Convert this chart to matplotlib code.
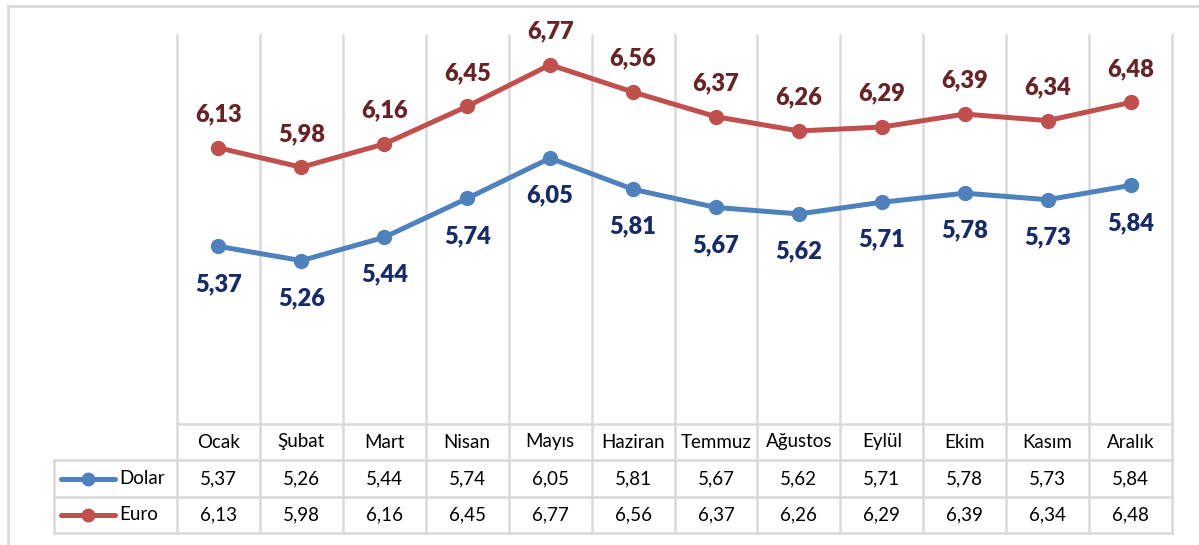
import matplotlib
matplotlib.use("Agg")
import matplotlib.pyplot as plt
import matplotlib.transforms as mtransforms
from matplotlib.lines import Line2D

plt.rcParams["font.family"] = ["Lato", "DejaVu Sans"]

months = ["Ocak", "Şubat", "Mart", "Nisan", "Mayıs", "Haziran",
          "Temmuz", "Ağustos", "Eylül", "Ekim", "Kasım", "Aralık"]
dolar = [5.37, 5.26, 5.44, 5.74, 6.05, 5.81, 5.67, 5.62, 5.71, 5.78, 5.73, 5.84]
euro = [6.13, 5.98, 6.16, 6.45, 6.77, 6.56, 6.37, 6.26, 6.29, 6.39, 6.34, 6.48]
series_names = ["Dolar", "Euro"]

W, H = 1199, 545
GRID = "#d9d9d9"
BLUE, RED = "#4f81bd", "#c0504d"
BLUE_TXT, RED_TXT = "#172c66", "#662426"


def fmt(v):
    return f"{v:.2f}".replace(".", ",")


fig = plt.figure(figsize=(W / 100, H / 100), dpi=100)

# outer chart border (top + left only visible)
fig.add_artist(Line2D([8 / W, 8 / W], [0, 1 - 6 / H], transform=fig.transFigure, color=GRID, lw=2))
fig.add_artist(Line2D([8 / W, 1], [1 - 6 / H, 1 - 6 / H], transform=fig.transFigure, color=GRID, lw=2))

left, right, top, bottom = 177, 1172, 35, 424
ax = fig.add_axes([left / W, 1 - bottom / H, (right - left) / W, (bottom - top) / H])
n = len(months)
x = list(range(n))
ax.set_xlim(-0.5, n - 0.5)
ax.set_ylim(4, 7)
for s in ax.spines.values():
    s.set_visible(False)
ax.set_xticks([])
ax.set_yticks([])
ax.patch.set_alpha(0)

# row boundaries of the data table in axes units (below the plot)
px = (bottom - top)
row_y = [0, -(460 - bottom) / px, -(497 - bottom) / px, -(533 - bottom) / px]
trans = mtransforms.blended_transform_factory(ax.transData, ax.transAxes)

# vertical category separators through plot and table
for b in [i - 0.5 for i in range(n + 1)]:
    ax.plot([b, b], [row_y[-1], 1], transform=trans, color=GRID, lw=1.8,
            clip_on=False, zorder=0)
# horizontal table lines
ax.plot([-0.5, n - 0.5], [row_y[0]] * 2, transform=trans, color=GRID, lw=1.8, clip_on=False)
leg_left = -0.5 - (left - 54) / ((right - left) / n)
for yy in row_y[1:]:
    ax.plot([leg_left, n - 0.5], [yy, yy], transform=trans, color=GRID, lw=1.8, clip_on=False)
ax.plot([leg_left, leg_left], [row_y[1], row_y[-1]], transform=trans, color=GRID, lw=1.8,
        clip_on=False)

# lines
ax.plot(x, dolar, color=BLUE, lw=3.6, marker="o", ms=10, zorder=3)
ax.plot(x, euro, color=RED, lw=3.6, marker="o", ms=10, zorder=3)

# data labels
for xi, v in zip(x, euro):
    ax.annotate(fmt(v), (xi, v), xytext=(0, 24), textcoords="offset points",
                ha="center", va="center", fontsize=17, fontweight="heavy", color=RED_TXT)
for xi, v in zip(x, dolar):
    ax.annotate(fmt(v), (xi, v), xytext=(0, -27), textcoords="offset points",
                ha="center", va="center", fontsize=17, fontweight="heavy", color=BLUE_TXT)

# table text
def mid(a, b):
    return (a + b) / 2

for xi, m in zip(x, months):
    ax.text(xi, mid(row_y[0], row_y[1]), m, transform=trans, ha="center", va="center",
            fontsize=13.5, color="black")
for xi, v in zip(x, dolar):
    ax.text(xi, mid(row_y[1], row_y[2]), fmt(v), transform=trans, ha="center", va="center",
            fontsize=13.5, color="black")
for xi, v in zip(x, euro):
    ax.text(xi, mid(row_y[2], row_y[3]), fmt(v), transform=trans, ha="center", va="center",
            fontsize=13.5, color="black")

# legend keys in the table
col_w = (right - left) / n
for (name, col), (r0, r1) in zip([(series_names[0], BLUE), (series_names[1], RED)],
                                 [(row_y[1], row_y[2]), (row_y[2], row_y[3])]):
    yy = mid(r0, r1)
    x0 = -0.5 - (left - 61) / col_w
    x1 = -0.5 - (left - 115) / col_w
    ax.plot([x0, x1], [yy, yy], transform=trans, color=col, lw=3.6, clip_on=False,
            solid_capstyle="round")
    ax.plot([(x0 + x1) / 2], [yy], transform=trans, color=col, marker="o", ms=9, clip_on=False)
    ax.text(-0.5 - (left - 119) / col_w, yy, name, transform=trans, ha="left", va="center",
            fontsize=13.5, color="black")

fig.savefig("out.png", dpi=100)
